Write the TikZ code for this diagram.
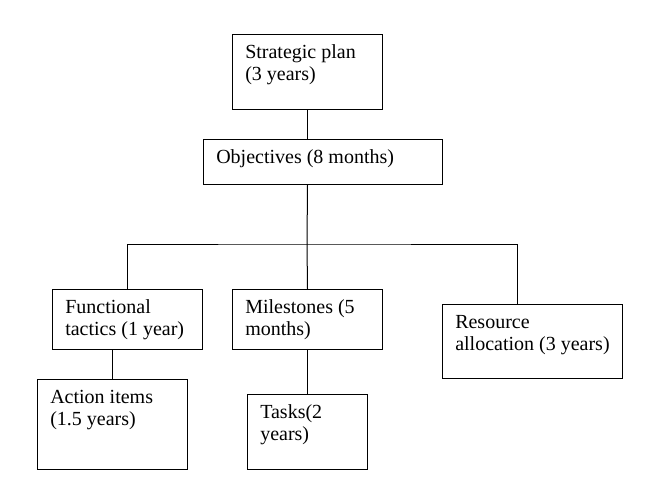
\documentclass[tikz,border=0pt]{standalone}
\usepackage{fontspec}
\setmainfont{Liberation Serif}
\begin{document}
\begin{tikzpicture}[x=0.75pt, y=-0.75pt,
            box/.style={draw, line width=0.75pt, anchor=north west, inner sep=0pt},
            txt/.style={anchor=base west, align=left, inner sep=0pt, font=\fontsize{15}{16.5}\selectfont},
            link/.style={line width=0.75pt}]
            \useasboundingbox (0,0) rectangle (653,485);
            \foreach \name/\x/\y/\w/\h in {plan/232/34/150/75, obj/203/139/239/45, func/52/289/150/60, mile/232/289/150/60, res/442/304/180/74, act/37/379/150/90, task/247/394/120/75}{
                \node[box, minimum width=\w*0.75pt, minimum height=\h*0.75pt] (\name) at (\x,\y) {};
            }
            % base of a two-line label is its second line
            \foreach \name/\dy/\words in {plan/46.5/{Strategic plan\\(3 years)}, obj/24.5/{Objectives (8 months)}, func/46.5/{Functional\\tactics (1 year)}, mile/46.5/{Milestones (5\\months)}, res/46.5/{Resource\\allocation (3 years)}, act/46.5/{Action items\\(1.5 years)}, task/46.5/{Tasks(2\\years)}}{
                \node[txt, shift={(13,\dy)}] (\name-t) at (\name.north west) {\words};
            }
            \coordinate (split) at (307,244);
            \coordinate (rbus) at (517,244);
            \draw[link] (plan.south) -- (plan.south |- obj.north);
            \draw[link] (plan.south |- obj.south) -- (split);
            \draw[link] (func.north) |- (split) -- (rbus) -- (rbus |- res.north);
            \draw[link] (mile.north) -- (split);
            \draw[link] (act.north |- func.south) -- (act.north);
            \draw[link] (mile.south) -- (task.north);
\end{tikzpicture}
\end{document}
